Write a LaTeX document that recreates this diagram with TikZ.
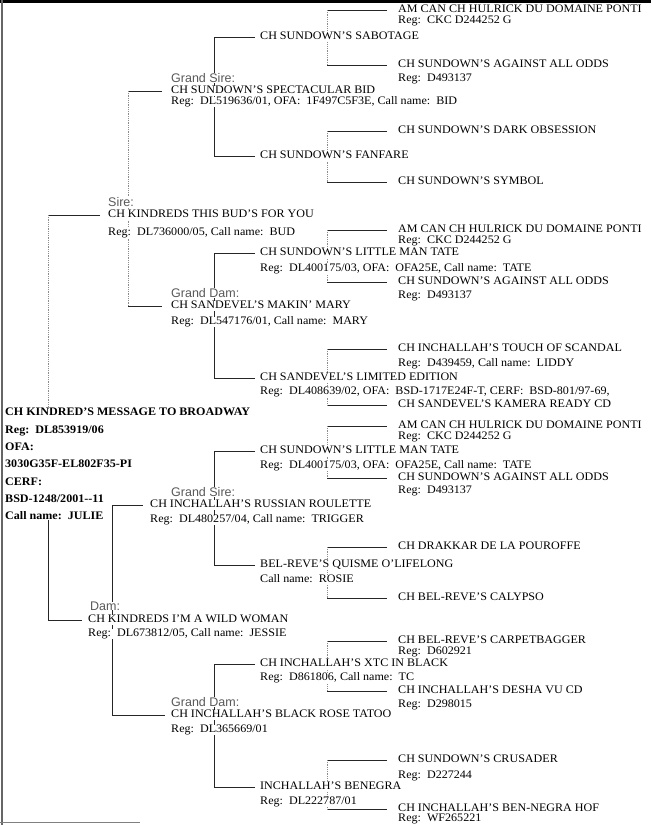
\documentclass[tikz,border=0pt]{standalone}
\usepackage{fontspec}
\setmainfont{Liberation Serif}[FakeStretch=1.05]
\newfontfamily\labelfont{Liberation Sans}
\usetikzlibrary{backgrounds}

\begin{document}
\begin{tikzpicture}[x=1pt,y=-1pt,
  dog/.style={anchor=west, inner sep=0pt, fill=white, text height=7.8pt, text depth=2pt,
    font=\fontsize{11.5}{13}\selectfont},
  role/.style={anchor=west, inner sep=0pt, fill=white, text=black!65,
    font=\labelfont\fontsize{12.5}{14}\selectfont},
  link/.style={line width=0.8pt, black!85},
  faint/.style={line width=0.8pt, black!45, densely dotted}]

\useasboundingbox (0,0) rectangle (651,825);

% ---- Sire side ----
% Great-grandparents
\node[dog] (A1) at (398,10) {AM CAN CH HULRICK DU DOMAINE PONTI};
\node[dog] (A1r) at (398,21) {Reg:\ \ CKC D244252 G};
\node[dog] (A2) at (398,65) {CH SUNDOWN'S AGAINST ALL ODDS};
\node[dog] (A2r) at (398,79) {Reg:\ \ D493137};
\node[dog] (A3) at (398,131) {CH SUNDOWN'S DARK OBSESSION};
\node[dog] (A4) at (398,182) {CH SUNDOWN'S SYMBOL};
\node[dog] (A5) at (398,230) {AM CAN CH HULRICK DU DOMAINE PONTI};
\node[dog] (A5r) at (398,241) {Reg:\ \ CKC D244252 G};
\node[dog] (A6) at (398,282) {CH SUNDOWN'S AGAINST ALL ODDS};
\node[dog] (A6r) at (398,296) {Reg:\ \ D493137};
\node[dog] (A7) at (398,349) {CH INCHALLAH'S TOUCH OF SCANDAL};
\node[dog] (A7r) at (398,364) {Reg:\ \ D439459, Call name:\ \ LIDDY};
\node[dog] (A8) at (398,405) {CH SANDEVEL'S KAMERA READY CD};

% Great-grandparents' children
\node[dog] (B1) at (260,37) {CH SUNDOWN'S SABOTAGE};
\node[dog] (B2) at (260,156) {CH SUNDOWN'S FANFARE};
\node[dog] (B3) at (260,253) {CH SUNDOWN'S LITTLE MAN TATE};
\node[dog] (B3r) at (260,269) {Reg:\ \ DL400175/03, OFA:\ \ OFA25E, Call name:\ \ TATE};
\node[dog] (B4) at (260,378) {CH SANDEVEL'S LIMITED EDITION};
\node[dog] (B4r) at (260,392) {Reg:\ \ DL408639/02, OFA:\ \ BSD-1717E24F-T, CERF:\ \ BSD-801/97-69,};

% Grandparents
\node[role] (C1l) at (171,78) {Grand Sire:};
\node[dog] (C1) at (171,91) {CH SUNDOWN'S SPECTACULAR BID};
\node[dog] (C1r) at (171,102) {Reg:\ \ DL519636/01, OFA:\ \ 1F497C5F3E, Call name:\ \ BID};
\node[role] (C2l) at (171,293) {Grand Dam:};
\node[dog] (C2) at (171,306) {CH SANDEVEL'S MAKIN' MARY};
\node[dog] (C2r) at (171,322) {Reg:\ \ DL547176/01, Call name:\ \ MARY};

% Sire
\node[role] (Sl) at (108,202) {Sire:};
\node[dog] (S) at (108,215) {CH KINDREDS THIS BUD'S FOR YOU};
\node[dog] (Sr) at (108,233) {Reg:\ \ DL736000/05, Call name:\ \ BUD};

% ---- The dog ----
\node[anchor=north west, inner sep=0pt, align=left, font=\fontsize{11.5}{17.3}\selectfont\bfseries]
  (subj) at (5,408) {CH KINDRED'S MESSAGE TO BROADWAY\\
  Reg:\ \ DL853919/06\\ OFA:\\ 3030G35F-EL802F35-PI\\ CERF:\\
  BSD-1248/2001-{}-11\\ Call name:\ \ JULIE};

% ---- Dam side ----
% Great-grandparents
\node[dog] (A9) at (398,426) {AM CAN CH HULRICK DU DOMAINE PONTI};
\node[dog] (A9r) at (398,437) {Reg:\ \ CKC D244252 G};
\node[dog] (A10) at (398,478) {CH SUNDOWN'S AGAINST ALL ODDS};
\node[dog] (A10r) at (398,491) {Reg:\ \ D493137};
\node[dog] (A11) at (398,547) {CH DRAKKAR DE LA POUROFFE};
\node[dog] (A12) at (398,598) {CH BEL-REVE'S CALYPSO};
\node[dog] (A13) at (398,641) {CH BEL-REVE'S CARPETBAGGER};
\node[dog] (A13r) at (398,652) {Reg:\ \ D602921};
\node[dog] (A14) at (398,691) {CH INCHALLAH'S DESHA VU CD};
\node[dog] (A14r) at (398,705) {Reg:\ \ D298015};
\node[dog] (A15) at (398,760) {CH SUNDOWN'S CRUSADER};
\node[dog] (A15r) at (398,776) {Reg:\ \ D227244};
\node[dog] (A16) at (398,809) {CH INCHALLAH'S BEN-NEGRA HOF};
\node[dog] (A16r) at (398,819) {Reg:\ \ WF265221};

% Great-grandparents' children
\node[dog] (B5) at (260,451) {CH SUNDOWN'S LITTLE MAN TATE};
\node[dog] (B5r) at (260,466) {Reg:\ \ DL400175/03, OFA:\ \ OFA25E, Call name:\ \ TATE};
\node[dog] (B6) at (260,565) {BEL-REVE'S QUISME O'LIFELONG};
\node[dog] (B6r) at (260,580) {Call name:\ \ ROSIE};
\node[dog] (B7) at (260,664) {CH INCHALLAH'S XTC IN BLACK};
\node[dog] (B7r) at (260,678) {Reg:\ \ D861806, Call name:\ \ TC};
\node[dog] (B8) at (260,787) {INCHALLAH'S BENEGRA};
\node[dog] (B8r) at (260,802) {Reg:\ \ DL222787/01};

% Grandparents
\node[role] (C3l) at (171,492) {Grand Sire:};
\node[dog] (C3) at (150,505) {CH INCHALLAH'S RUSSIAN ROULETTE};
\node[dog] (C3r) at (150,520) {Reg:\ \ DL480257/04, Call name:\ \ TRIGGER};
\node[role] (C4l) at (171,702) {Grand Dam:};
\node[dog] (C4) at (171,715) {CH INCHALLAH'S BLACK ROSE TATOO};
\node[dog] (C4r) at (171,730) {Reg:\ \ DL365669/01};

% Dam
\node[role] (Ml) at (90,606) {Dam:};
\node[dog] (M) at (88,620) {CH KINDREDS I'M A WILD WOMAN};
\node[dog] (Mr) at (88,634) {Reg:\ \ DL673812/05, Call name:\ \ JESSIE};

% ---- Brackets ----
\begin{scope}[on background layer]
% great-grandparents
\draw[link] ([xshift=-11pt]A1.west) -- ++(-60,0) ([xshift=-11pt]A2.west) -- ++(-60,0);
\draw[faint] ([xshift=-71pt]A1.west) -- ([xshift=-71pt]A2.west);
\draw[link] ([xshift=-11pt]A3.west) -- ++(-60,0) ([xshift=-11pt]A4.west) -- ++(-60,0);
\draw[faint] ([xshift=-71pt]A3.west) -- ([xshift=-71pt]A4.west);
\draw[link] ([xshift=-11pt]A5.west) -- ++(-60,0) ([xshift=-11pt]A6.west) -- ++(-60,0);
\draw[faint] ([xshift=-71pt]A5.west) -- ([xshift=-71pt]A6.west);
\draw[link] ([xshift=-11pt]A7.west) -- ++(-60,0) ([xshift=-11pt]A8.west) -- ++(-60,0);
\draw[faint] ([xshift=-71pt]A7.west) -- ([xshift=-71pt]A8.west);
\draw[link] ([xshift=-11pt]A9.west) -- ++(-60,0) ([xshift=-11pt]A10.west) -- ++(-60,0);
\draw[faint] ([xshift=-71pt]A9.west) -- ([xshift=-71pt]A10.west);
\draw[link] ([xshift=-11pt]A11.west) -- ++(-60,0) ([xshift=-11pt]A12.west) -- ++(-60,0);
\draw[faint] ([xshift=-71pt]A11.west) -- ([xshift=-71pt]A12.west);
\draw[link] ([xshift=-11pt]A13.west) -- ++(-60,0) ([xshift=-11pt]A14.west) -- ++(-60,0);
\draw[faint] ([xshift=-71pt]A13.west) -- ([xshift=-71pt]A14.west);
\draw[link] ([xshift=-11pt]A15.west) -- ++(-60,0) ([xshift=-11pt]A16.west) -- ++(-60,0);
\draw[faint] ([xshift=-71pt]A15.west) -- ([xshift=-71pt]A16.west);

% great-grandparents' children
\draw[link] ([xshift=-5pt]B1.west) -- ([xshift=-46pt]B1.west) -- ([xshift=-46pt]B2.west) -- ([xshift=-5pt]B2.west);
\draw[link] ([xshift=-5pt]B3.west) -- ([xshift=-46pt]B3.west) -- ([xshift=-46pt]B4.west) -- ([xshift=-5pt]B4.west);
\draw[link] ([xshift=-5pt]B5.west) -- ([xshift=-46pt]B5.west) -- ([xshift=-46pt]B6.west) -- ([xshift=-5pt]B6.west);
\draw[link] ([xshift=-5pt]B7.west) -- ([xshift=-46pt]B7.west) -- ([xshift=-46pt]B8.west) -- ([xshift=-5pt]B8.west);

% grandparents
\draw[link] ([xshift=-9pt]C1.west) -- ++(-34,0) ([xshift=-9pt]C2.west) -- ++(-34,0);
\draw[faint] ([xshift=-43pt]C1.west) -- ([xshift=-43pt]C2.west);
\draw[link] ([xshift=-7pt]C3.west) -- ([xshift=-38pt]C3.west) -- ([xshift=-59pt]C4.west) -- ([xshift=-6pt]C4.west);

% parents
\draw[link] ([xshift=-8pt]S.west) -- ([xshift=-60pt]S.west);
\draw[faint] ([xshift=-60pt]S.west) -- ([xshift=-60pt]S.west |- subj.north);
\draw[link] ([xshift=-6pt]M.west) -- ([xshift=-40pt]M.west) -- ([xshift=-40pt]M.west |- subj.south);
\end{scope}

% Frame
\draw[line width=3pt] (0,1.5) -- (651,1.5);
\draw[line width=1.2pt,black!60] (2,0) -- (2,825);
\draw[line width=1pt,black!50] (0,822) -- (140,822);

\end{tikzpicture}
\end{document}
